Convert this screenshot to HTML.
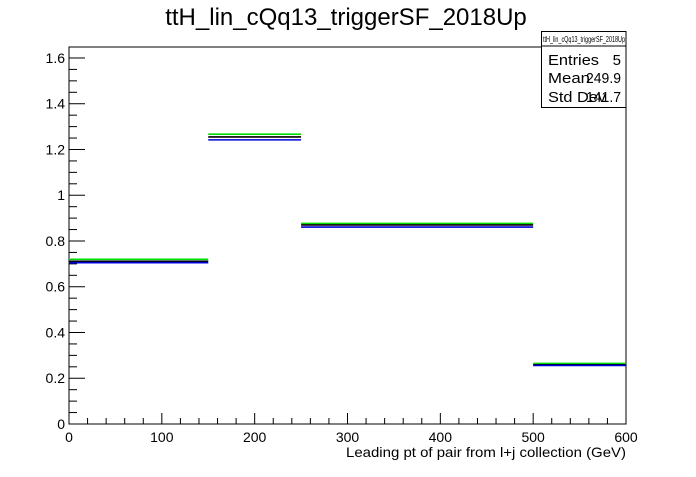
<!DOCTYPE html>
<html><head><meta charset="utf-8"><style>
body{margin:0;background:#fff;font-family:"Liberation Sans",sans-serif}
svg text{font-family:"Liberation Sans",sans-serif}
</style></head><body>
<svg width="696" height="472">
<text x="346" y="25" font-size="24" text-anchor="middle">ttH_lin_cQq13_triggerSF_2018Up</text>
<g id="axes"></g>
<g id="marks"></g>
<text x="346" y="457" font-size="14" textLength="280" lengthAdjust="spacingAndGlyphs">Leading pt of pair from l+j collection (GeV)</text>
<g>
<rect x="541.5" y="31.5" width="84.5" height="76" fill="#fff" stroke="#000" stroke-width="1"/>
<line x1="542" y1="46" x2="626" y2="46" stroke="#000"/>
<text x="543" y="42" font-size="8" textLength="82" lengthAdjust="spacingAndGlyphs">ttH_lin_cQq13_triggerSF_2018Up</text>
<text x="548" y="65" font-size="15" textLength="51" lengthAdjust="spacingAndGlyphs">Entries</text><text x="621" y="65" font-size="15" text-anchor="end">5</text>
<text x="548" y="83" font-size="15" textLength="42" lengthAdjust="spacingAndGlyphs">Mean</text><text x="621" y="83" font-size="15" text-anchor="end" textLength="35" lengthAdjust="spacingAndGlyphs">249.9</text>
<text x="548" y="102" font-size="15" textLength="58" lengthAdjust="spacingAndGlyphs">Std Dev</text><text x="621" y="102" font-size="15" text-anchor="end" textLength="35" lengthAdjust="spacingAndGlyphs">141.7</text>
</g>
</svg>
<script>
const binEdges=[0,150,250,500,600];
const greenVals=[0.72,1.267,0.877,0.265];
const blackVals=[0.711,1.255,0.870,0.259];
const blueVals=[0.705,1.242,0.861,0.256];
const xTicks=[0,100,200,300,400,500,600];
const yTicks=[0,0.2,0.4,0.6,0.8,1,1.2,1.4,1.6];
const X0=69,X1=626,Y0=424,Y1=47,XMAX=600,YMAX=1.648;
const xs=v=>X0+v/XMAX*(X1-X0);
const ys=v=>Y0-v/YMAX*(Y0-Y1);
const NS="http://www.w3.org/2000/svg";
function mk(p,t,a){const e=document.createElementNS(NS,t);for(const k in a)e.setAttribute(k,a[k]);p.appendChild(e);return e;}
const ax=document.getElementById('axes');
let f=mk(ax,'path',{d:`M${X0},${Y1}H${X1}V${Y0}H${X0}Z`,fill:'none',stroke:'#000','stroke-width':1});


for(let v=0;v<=600.01;v+=20){const maj=Math.abs(v%100)<0.01;
 const t=mk(ax,'line',{x1:xs(v),x2:xs(v),y1:Y0,y2:Y0-(maj?11:6),stroke:'#000'});
 
 }
xTicks.forEach(v=>{const t=mk(ax,'text',{x:xs(v),y:Y0+18,'font-size':14,'text-anchor':'middle'});t.textContent=v;
 
 });
for(let i=0;i*0.05<=YMAX;i++){const v=i*0.05;const maj=i%4===0;
 const t=mk(ax,'line',{x1:X0,x2:X0+(maj?16:8),y1:ys(v),y2:ys(v),stroke:'#000'});
 
 }
yTicks.forEach(v=>{const t=mk(ax,'text',{x:X0-4,y:ys(v)+5,'font-size':14,'text-anchor':'end'});t.textContent=String(v);
 
 });
const mg=document.getElementById('marks');
[[greenVals,'#00dd00','green'],[blackVals,'#000','black'],[blueVals,'#0000dd','blue']].forEach(([vals,c,n])=>{
 vals.forEach((v,i)=>{const l=mk(mg,'line',{x1:xs(binEdges[i]),x2:xs(binEdges[i+1]),y1:ys(v),y2:ys(v),stroke:c,'stroke-width':1.6});
  
  });
});
</script>
</body></html>
